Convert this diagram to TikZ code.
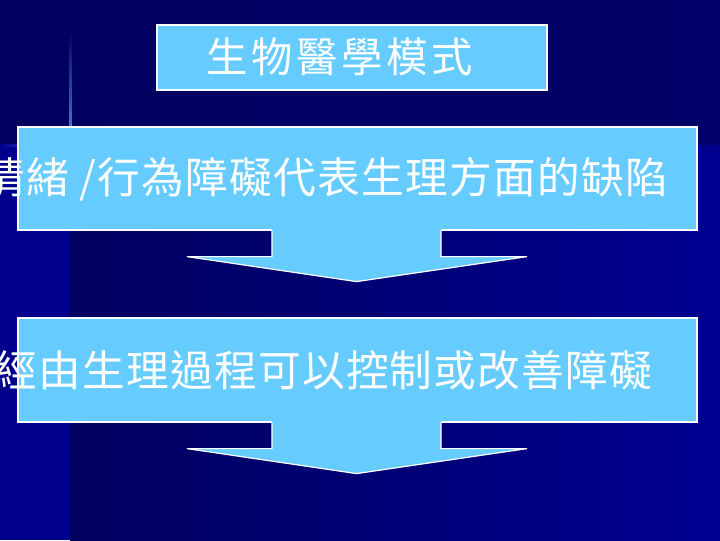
\documentclass[tikz,border=0pt]{standalone}
\usepackage{fontspec}
\setmainfont{Noto Sans CJK TC}
\newfontfamily\titlefont[LetterSpace=9]{Noto Sans CJK TC}
\newfontfamily\panelfont[LetterSpace=3]{Noto Sans CJK TC}

\definecolor{navydark}{RGB}{0,0,94}
\definecolor{navymid}{RGB}{0,0,104}
\definecolor{navybright}{RGB}{0,0,145}
\definecolor{navyleft}{RGB}{0,0,140}
\definecolor{skypanel}{RGB}{102,204,255}
\definecolor{glow}{RGB}{90,130,230}

\tikzset{every picture/.style={line width=0.75pt}}
\tikzset{
  panel/.style={draw=white, fill=skypanel, inner sep=0pt, line width=0.9pt},
  paneltext/.style={anchor=west, inner sep=0pt, text=white}
}

\begin{document}
\begin{tikzpicture}[x=0.75pt,y=0.75pt,yscale=-1,xscale=1]
\useasboundingbox (0,0) rectangle (720,540);
\clip (0,0) rectangle (720,540);

% Background
\fill [navyleft] (0,0) rectangle (720,540);
\shade [left color=navydark, right color=navymid] (0,0) rectangle (720,145);
\shade [left color=navydark, right color=navybright] (70,145) rectangle (720,540);
%Straight Lines (glow)
\shade [top color=navydark, bottom color=glow] (69,30) rectangle (71.5,145);
\shade [left color=navyleft, right color=glow] (0,144) rectangle (70,146);

%Shape: Rectangle
\draw (352,57.5) node [panel, minimum width=292.5pt, minimum height=48.75pt] (model) {};
%Shape: Rectangle
\draw (357.5,178.5) node [panel, minimum width=509.25pt, minimum height=77.25pt] (defect) {};
%Shape: Rectangle
\draw (357.5,370) node [panel, minimum width=509.25pt, minimum height=78pt] (control) {};

\coordinate (s1) at (defect.south);
\coordinate (s2) at (control.south);

%Shape: Down Arrow
\fill [skypanel] ([shift={(-85.5,-2)}]s1) -- ++(0,28) -- ++(-85,0) -- ++(169.5,25) -- ++(170.5,-25) -- ++(-86,0) -- ++(0,-28) -- cycle;
\draw [white, line width=0.9pt] ([shift={(-85.5,0)}]s1) -- ++(0,26) -- ++(-85,0) -- ++(169.5,25) -- ++(170.5,-25) -- ++(-86,0) -- ++(0,-26);
%Shape: Down Arrow
\fill [skypanel] ([shift={(-85.5,-2)}]s2) -- ++(0,28) -- ++(-85,0) -- ++(169.5,25) -- ++(170.5,-25) -- ++(-86,0) -- ++(0,-28) -- cycle;
\draw [white, line width=0.9pt] ([shift={(-85.5,0)}]s2) -- ++(0,26) -- ++(-85,0) -- ++(169.5,25) -- ++(170.5,-25) -- ++(-86,0) -- ++(0,-26);

% Text Node
\draw (206,57) node [paneltext] (modeltext) {\titlefont\fontsize{31}{36}\selectfont 生物醫學模式};
% Text Node
\draw (-18,179) node [paneltext] (defecttext) {\panelfont\fontsize{32}{38}\selectfont 情緒 /行為障礙代表生理方面的缺陷};
% Text Node
\draw (-6,370) node [paneltext] (controltext) {\panelfont\fontsize{32}{38}\selectfont 經由生理過程可以控制或改善障礙};

\end{tikzpicture}
\end{document}
